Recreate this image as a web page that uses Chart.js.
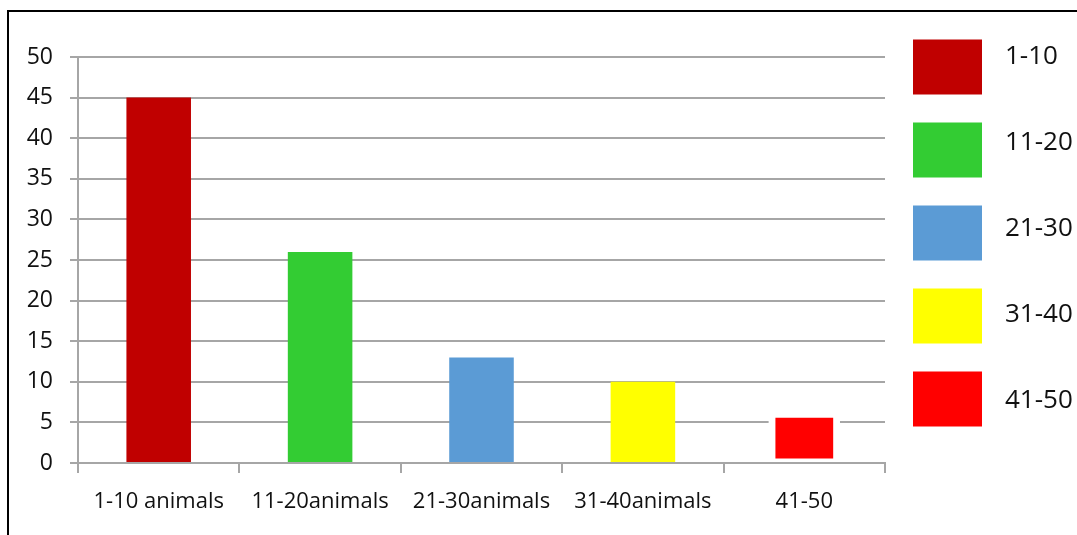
<!DOCTYPE html>
<html>
<head>
<meta charset="utf-8">
<script src="https://cdn.jsdelivr.net/npm/chart.js@4.4.1/dist/chart.umd.min.js"></script>
<style>
  html, body { margin: 0; padding: 0; background: #fff; }
  #wrap { position: relative; width: 1077px; height: 535px; overflow: hidden; }
  #frame { position: absolute; left: 7px; top: 10px; width: 1200px; height: 700px;
           border-left: 2px solid #000; border-top: 2px solid #000; }
  #c { position: absolute; left: 0; top: 0; }
</style>
</head>
<body>
<div id="wrap">
  <div id="frame"></div>
  <canvas id="c" width="1077" height="535"></canvas>
</div>
<script>
// Herd-size groups and number of holdings in each
const categories = ['1-10 animals', '11-20animals', '21-30animals', '31-40animals', '41-50'];
const legendLabels = ['1-10', '11-20', '21-30', '31-40', '41-50'];
const counts = [45, 26, 13, 10, 6];
const yTicks = [0, 5, 10, 15, 20, 25, 30, 35, 40, 45, 50];
const barColors = ['#C00000', '#33CC33', '#5B9BD5', '#FFFF00', '#FF0000'];

const GRID = '#a6a6a6';
const TEXT = '#111111';
const FONT = '"Open Sans", "Liberation Sans", sans-serif';

Chart.defaults.font.family = FONT;
Chart.defaults.color = TEXT;

// White outline around bars that carry a border: clears the gridlines just outside the bar
const haloPlugin = {
  id: 'halo',
  beforeDatasetsDraw(chart) {
    const meta = chart.getDatasetMeta(0);
    const ctx = chart.ctx;
    meta.data.forEach((bar) => {
      const bw = bar.options.borderWidth;
      if (!bw) return;
      const { x, y, base, width } = bar.getProps(['x', 'y', 'base', 'width'], true);
      ctx.save();
      ctx.fillStyle = '#ffffff';
      ctx.fillRect(x - width / 2 - bw, y - bw, width + 2 * bw, base - y + 2 * bw);
      ctx.restore();
    });
  }
};

// Legend on the right: one large swatch per herd-size group
const sideLegend = {
  id: 'sideLegend',
  afterDraw(chart) {
    const ctx = chart.ctx;
    ctx.save();
    legendLabels.forEach((label, i) => {
      const top = 39.5 + i * 83;
      ctx.fillStyle = barColors[i];
      ctx.fillRect(913, top, 69, 55);
      ctx.fillStyle = TEXT;
      ctx.font = '26px ' + FONT;
      ctx.textAlign = 'left';
      ctx.textBaseline = 'middle';
      ctx.fillText(label, 1005, 56.5 + i * 86);
    });
    ctx.restore();
  }
};

new Chart(document.getElementById('c'), {
  type: 'bar',
  data: {
    labels: categories,
    datasets: [{
      data: counts,
      backgroundColor: barColors,
      borderColor: '#ffffff',
      borderWidth: (ctx) => (ctx.dataIndex === 4 ? 3.4 : 0),
      borderSkipped: false,
      barPercentage: 0.4,
      categoryPercentage: 1
    }]
  },
  options: {
    responsive: false,
    devicePixelRatio: 1,
    animation: false,
    layout: { padding: { top: 57, right: 192, bottom: 0, left: 0 } },
    plugins: {
      legend: { display: false },
      tooltip: { enabled: false }
    },
    scales: {
      x: {
        offset: true,
        grid: { offset: true, drawOnChartArea: false, drawTicks: true, tickLength: 10, color: GRID, lineWidth: 2 },
        border: { display: true, color: GRID, width: 2, z: 1 },
        ticks: { padding: 16, font: { size: 22 }, color: TEXT, maxRotation: 0, autoSkip: false },
        afterFit: (s) => { s.height = 72; }
      },
      y: {
        min: 0,
        max: 50,
        grid: { color: GRID, lineWidth: 2, tickLength: 8, drawTicks: true },
        border: { display: true, color: GRID, width: 2 },
        ticks: { padding: 17, font: { size: 23 }, color: TEXT },
        afterBuildTicks: (s) => { s.ticks = yTicks.map((v) => ({ value: v })); },
        afterFit: (s) => { s.width = 78; }
      }
    }
  },
  plugins: [haloPlugin, sideLegend]
});
</script>
</body>
</html>
